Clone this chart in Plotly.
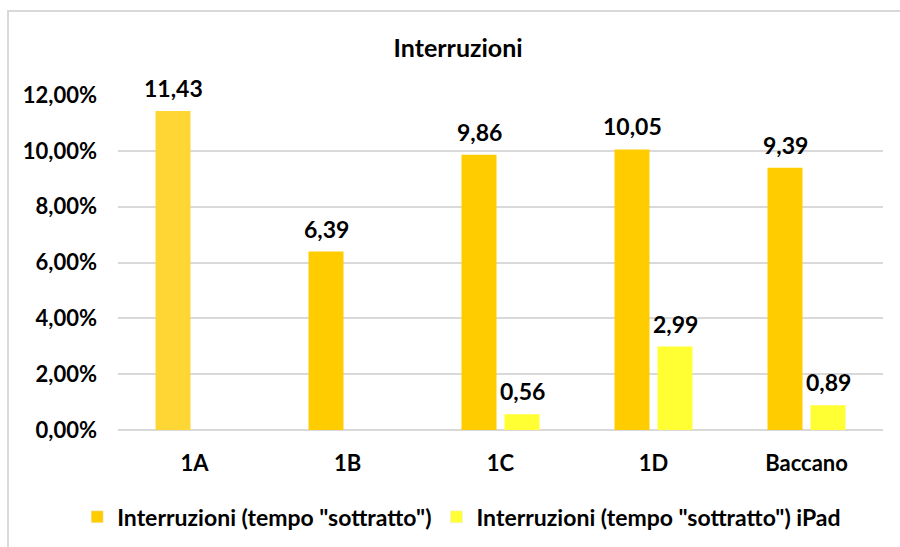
import plotly.graph_objects as go

# Categories and values (percent)
classi = ["1A", "1B", "1C", "1D", "Baccano"]
interruzioni = [11.43, 6.39, 9.86, 10.05, 9.39]
interruzioni_ipad = [None, None, 0.56, 2.99, 0.89]

nome_1 = 'Interruzioni (tempo "sottratto")'
nome_2 = 'Interruzioni (tempo "sottratto") iPad'

ORO = "#FFCC00"
ORO_CHIARO = "#FFD633"
GIALLO = "#FFFF33"
GRIGIO = "#D9D9D9"
FONT = "Lato"

colori_1 = [ORO_CHIARO] + [ORO] * (len(classi) - 1)

fig = go.Figure()

fig.add_trace(go.Bar(
    x=classi, y=[v / 100 for v in interruzioni],
    marker=dict(color=colori_1, line=dict(width=0)),
    offsetgroup="a", showlegend=False, hoverinfo="skip",
))
fig.add_trace(go.Bar(
    x=classi, y=[None if v is None else v / 100 for v in interruzioni_ipad],
    marker=dict(color=GIALLO, line=dict(width=0)),
    offsetgroup="b", showlegend=False, hoverinfo="skip",
))
# legend entries
fig.add_trace(go.Bar(x=[classi[0]], y=[None], marker_color=ORO, name=nome_1,
                     offsetgroup="a"))
fig.add_trace(go.Bar(x=[classi[0]], y=[None], marker_color=GIALLO, name=nome_2,
                     offsetgroup="b"))

# value labels above bars
def fmt(v):
    return f"{v:.2f}".replace(".", ",")

for serie, shift in ((interruzioni, -21.5), (interruzioni_ipad, 21.5)):
    for c, v in zip(classi, serie):
        if v is None:
            continue
        fig.add_annotation(
            x=c, y=v / 100, text=fmt(v), showarrow=False,
            xshift=shift, yshift=7, yanchor="bottom",
            font=dict(family=FONT, size=23, color="#000000", weight="bold"),
        )

# chart area border
fig.add_shape(type="rect", xref="paper", yref="paper",
              x0=-0.1438, x1=1.05, y0=-0.40, y1=1.2507,
              line=dict(color=GRIGIO, width=2), layer="below")

fig.update_layout(
    width=900, height=547,
    margin=dict(l=118, r=17, t=95, b=117),
    paper_bgcolor="white", plot_bgcolor="white",
    separators=",.",
    barmode="group", bargap=0.438, bargroupgap=0.186,
    title=dict(text="Interruzioni", x=0.509, xref="container", xanchor="center",
               y=0.912, yref="container", yanchor="middle",
               font=dict(family=FONT, size=25, color="#000000", weight="bold")),
    legend=dict(orientation="h", xref="container", yref="container",
                x=0.513, xanchor="center", y=0.055, yanchor="middle",
                itemwidth=30,
                font=dict(family=FONT, size=23, color="#000000", weight="bold")),
    showlegend=True,
)

fig.update_yaxes(
    range=[0, 0.12], dtick=0.02, tickformat=".2%",
    showgrid=True, gridcolor=GRIGIO, gridwidth=2,
    zeroline=True, zerolinecolor=GRIGIO, zerolinewidth=2,
    showline=False, ticks="", ticklabelstandoff=20,
    tickfont=dict(family=FONT, size=22, color="#000000", weight="bold"),
)
fig.update_xaxes(
    showgrid=False, showline=False, ticks="", ticklabelstandoff=18,
    tickfont=dict(family=FONT, size=22, color="#000000", weight="bold"),
)

fig.write_html("out.html")
